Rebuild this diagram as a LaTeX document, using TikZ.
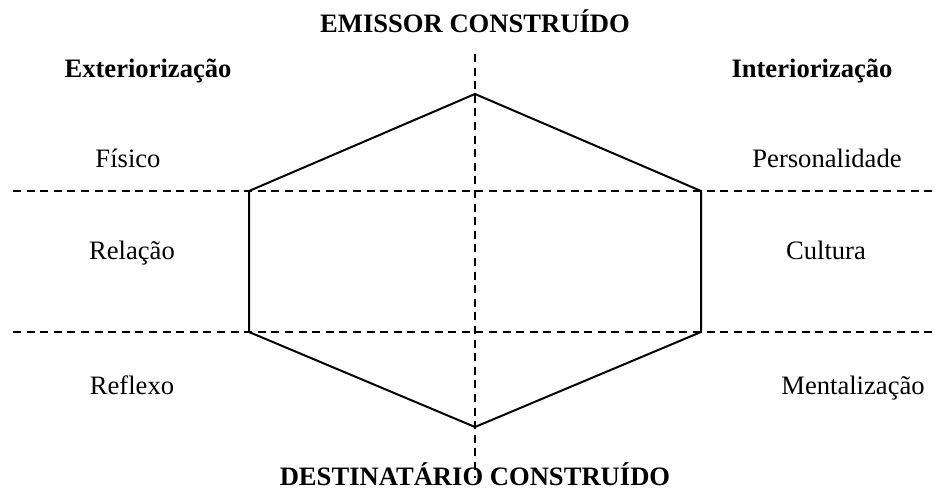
\documentclass[tikz,border=0pt]{standalone}
\usepackage{fontspec}
\setmainfont{Liberation Serif}
\begin{document}
\begin{tikzpicture}[x=0.5pt,y=-0.5pt,
  lbl/.style={font=\fontsize{13.3}{15}\selectfont, anchor=base, inner sep=0pt},
  head/.style={font=\fontsize{13.3}{15}\selectfont\bfseries, anchor=base, inner sep=0pt},
  guide/.style={line width=1pt, dash pattern=on 4pt off 2.8pt},
  hex/.style={line width=1pt}]
\useasboundingbox (0,0) rectangle (937,491);
% guide line end points
\coordinate (vt) at (475,54);
\coordinate (vb) at (475,478);
\coordinate (h1l) at (13,191);
\coordinate (h1r) at (934,191);
\coordinate (h2l) at (13,332);
\coordinate (h2r) at (934,332);
% hexagon vertices
\coordinate (top) at (475,94);
\coordinate (ul) at (249,191);
\coordinate (ll) at (249,332);
\coordinate (bot) at (475,427);
\coordinate (lr) at (701,332);
\coordinate (ur) at (701,191);
\draw[guide] (vt) -- (vb);
\draw[guide] (h1l) -- (h1r);
\draw[guide] (h2l) -- (h2r);
\draw[hex] (top) -- (ul) -- (ll) -- (bot) -- (lr) -- (ur) -- cycle;
% labels
\node[head] (em) at (475,33) {EMISSOR CONSTRUÍDO};
\node[head] (de) at (475,486) {DESTINATÁRIO CONSTRUÍDO};
\node[head] (ex) at (148,78) {Exteriorização};
\node[head] (in) at (812,78) {Interiorização};
\node[lbl] (fi) at (128,168) {Físico};
\node[lbl] (pe) at (827,168) {Personalidade};
\node[lbl] (re) at (132,260) {Relação};
\node[lbl] (cu) at (826,260) {Cultura};
\node[lbl] (rf) at (132,395) {Reflexo};
\node[lbl] (me) at (853,395) {Mentalização};
\end{tikzpicture}
\end{document}
